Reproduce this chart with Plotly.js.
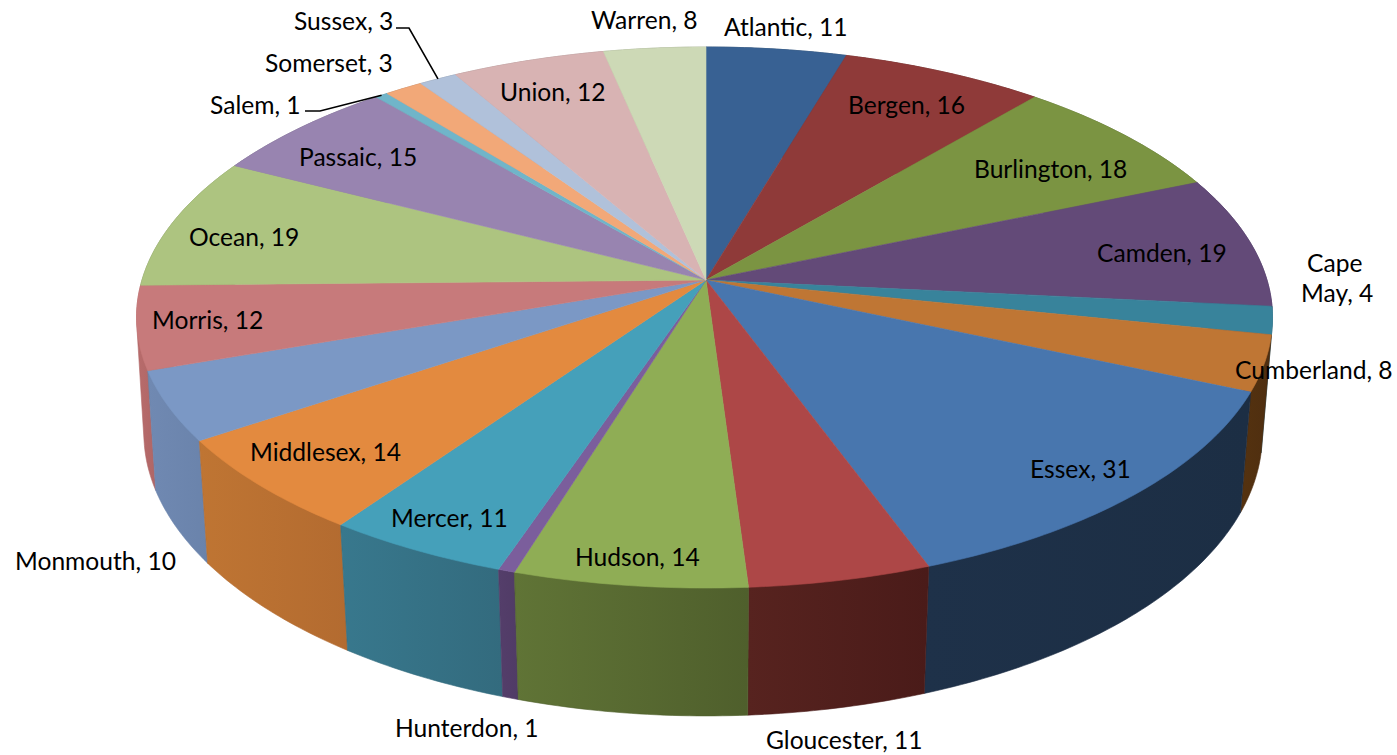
<!DOCTYPE html>
<html>
<head>
<meta charset="utf-8">
<script src="https://cdn.plot.ly/plotly-3.0.1.min.js"></script>
<style>html,body{margin:0;padding:0;background:#fff;overflow:hidden}</style>
</head>
<body>
<div id="chart" style="width:1397px;height:755px"></div>
<script>
// Data
const counties = ["Atlantic","Bergen","Burlington","Camden","Cape May","Cumberland","Essex","Gloucester","Hudson","Hunterdon","Mercer","Middlesex","Monmouth","Morris","Ocean","Passaic","Salem","Somerset","Sussex","Union","Warren"];
const values = [11,16,18,19,4,8,31,11,14,1,11,14,10,12,19,15,1,3,3,12,8];

// Styles
const topColors = ["#386193","#8f3a39","#7b9442","#634a78","#38839b","#bf7634","#4876ae","#ad4747","#8fad55","#7b5e9c","#45a0ba","#e38a3f","#7b98c5","#c77a7b","#adc480","#9884b0","#70b5c9","#f2a878","#b0c1da","#d8b3b3","#cdd9b6"];
const sideLeft = ["#24405f","#5e2524","#51632c","#41325a","#26586a","#55320f","#1e3149","#57231f","#607436","#543e6a","#38788d","#bf7533","#7089b2","#b86c6c","#7a8c5a","#6a5c7c","#4f8090","#aa7655","#7b8799","#98807f","#8f9880"];
const sideRight = ["#24405f","#5e2524","#51632c","#41325a","#26586a","#4e2e10","#1c2e44","#4a1b19","#4f5f2c","#503b66","#336b7e","#b36b30","#6a83ab","#b06666","#7a8c5a","#6a5c7c","#4f8090","#aa7655","#7b8799","#98807f","#8f9880"];

// Label placement (page pixels on the hidden axes)
const labelText = ["Atlantic, 11","Bergen, 16","Burlington, 18","Camden, 19","Cape","May, 4","Cumberland, 8","Essex, 31","Gloucester, 11","Hudson, 14","Hunterdon, 1","Mercer, 11","Middlesex, 14","Monmouth, 10","Morris, 12","Ocean, 19","Passaic, 15","Salem, 1","Somerset, 3","Sussex, 3","Union, 12","Warren, 8"];
const labelX = [786,906,1050,1162,1334,1337,1314,1080,844,637,467,449,325,95,207,244,358,255,329,343,552,644];
const labelY = [26,104,168,252,262,292,369,468,739,556,727,517,451,560,319,236,156,104,62,20,91,19];
const leaderElbows = {Salem:[[305,111],[320,111]], Sussex:[[396,28],[409,28]]};

// Projection of the tilted disc
const cam = {cx:706, cy:280, A:562.5, B:265.3, C:118, k:0.1387, m:0.018, lean:1.5, bulge:3};
function project(theta, depth, radius){
  const X = radius*Math.sin(theta), Y = radius*Math.cos(theta);
  const w = 1 + cam.k*Y + cam.m*depth;
  const side = X < 0 ? Math.pow(-X,4) : 0;
  return [cam.cx + cam.A*X/w - cam.lean*X*X - cam.bulge*depth*side, cam.cy + (-cam.B*Y + cam.C*depth)/w];
}

const total = values.reduce((a,b)=>a+b,0);
let cum = 0;
const slices = values.map((v,i)=>{
  const a0 = cum/total*2*Math.PI; cum += v;
  const a1 = cum/total*2*Math.PI;
  return {i,a0,a1,mid:(a0+a1)/2};
});
function arc(s, depth){
  const n = Math.max(2, Math.ceil((s.a1-s.a0)/(Math.PI/240)));
  const pts = [];
  for(let j=0;j<=n;j++){ pts.push(project(s.a0+(s.a1-s.a0)*j/n, depth, 1)); }
  return pts;
}
// A wall's outline is the hull of its two arcs, so the silhouette tangent is covered
function hull(points){
  const p = points.slice().sort((a,b)=>a[0]-b[0]||a[1]-b[1]);
  const cross = (o,a,b)=>(a[0]-o[0])*(b[1]-o[1])-(a[1]-o[1])*(b[0]-o[0]);
  const lo = [], up = [];
  p.forEach(q=>{ while(lo.length>1 && cross(lo[lo.length-2],lo[lo.length-1],q)<=0) lo.pop(); lo.push(q); });
  p.slice().reverse().forEach(q=>{ while(up.length>1 && cross(up[up.length-2],up[up.length-1],q)<=0) up.pop(); up.push(q); });
  return lo.slice(0,-1).concat(up.slice(0,-1));
}

const traces = [];
// Outer walls, back to front
[...slices].sort((p,q)=>Math.cos(q.mid)-Math.cos(p.mid)).forEach(s=>{
  const pts = hull(arc(s,0).concat(arc(s,1)));
  pts.push(pts[0]);
  traces.push({type:"scatter",mode:"lines",x:pts.map(p=>p[0]),y:pts.map(p=>p[1]),fill:"toself",
    fillgradient:{type:"horizontal",colorscale:[[0,sideLeft[s.i]],[1,sideRight[s.i]]]},
    line:{color:sideRight[s.i],width:0.6,simplify:false},name:counties[s.i],hoverinfo:"name",showlegend:false});
});
// Top face
slices.forEach(s=>{
  const pts = [project(0,0,0)].concat(arc(s,0));
  pts.push(pts[0]);
  traces.push({type:"scatter",mode:"lines",x:pts.map(p=>p[0]),y:pts.map(p=>p[1]),fill:"toself",
    fillcolor:topColors[s.i],line:{color:topColors[s.i],width:0.6,simplify:false},
    name:counties[s.i],text:counties[s.i]+", "+values[s.i],hoverinfo:"text",showlegend:false});
});
// Leader lines end on the outer edge of their slice
Object.keys(leaderElbows).forEach(name=>{
  const s = slices[counties.indexOf(name)];
  const pts = leaderElbows[name].concat([project(s.mid,0,1)]);
  traces.push({type:"scatter",mode:"lines",x:pts.map(p=>p[0]),y:pts.map(p=>p[1]),
    line:{color:"#000",width:1.6},hoverinfo:"skip",showlegend:false});
});

const annotations = labelText.map((t,i)=>({
  x:labelX[i],y:labelY[i],xref:"x",yref:"y",text:t,showarrow:false,xanchor:"center",yanchor:"middle",
  align:"center",font:{family:"Lato, Carlito, sans-serif",size:24.6,color:"#000"}
}));

const axis = {visible:false,fixedrange:true,showgrid:false,zeroline:false};
Plotly.newPlot("chart",traces,{
  width:1397,height:755,margin:{l:0,r:0,t:0,b:0},paper_bgcolor:"#fff",plot_bgcolor:"#fff",
  xaxis:Object.assign({range:[0,1397]},axis),
  yaxis:Object.assign({range:[755,0]},axis),
  showlegend:false,annotations:annotations,hovermode:"closest"
},{displayModeBar:false,responsive:false});
</script>
</body>
</html>
